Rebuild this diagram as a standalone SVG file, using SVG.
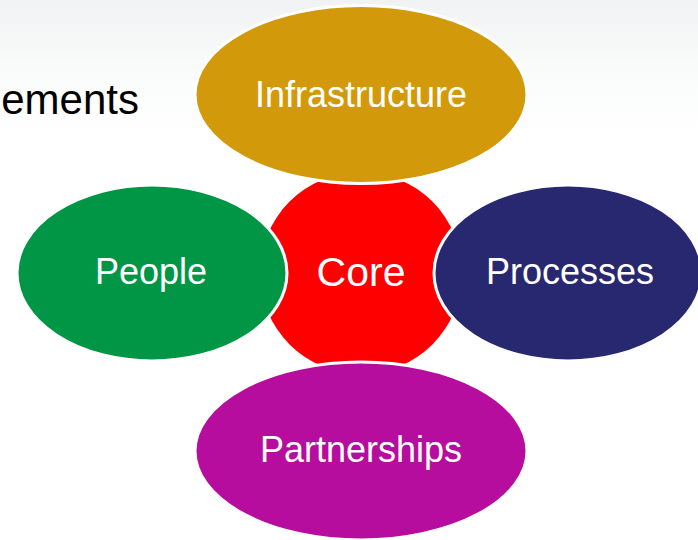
<svg xmlns="http://www.w3.org/2000/svg" width="698" height="540" viewBox="0 0 698 540">
  <defs>
    <linearGradient id="bg" x1="0" y1="0" x2="0" y2="1">
      <stop offset="0" stop-color="#f1f2f3"/>
      <stop offset="0.12" stop-color="#f9fafa"/>
      <stop offset="0.25" stop-color="#ffffff"/>
      <stop offset="1" stop-color="#ffffff"/>
    </linearGradient>
  </defs>
  <style>
    .lbl { font-family: "Liberation Sans", Arial, sans-serif; font-size: 36px; fill: #ffffff; text-anchor: middle; }
    .node { stroke: #ffffff; stroke-width: 3; }
  </style>
  <rect x="0" y="0" width="698" height="540" fill="url(#bg)"/>
  <text x="139" y="114" font-family="Liberation Sans, Arial, sans-serif" font-size="42" fill="#000000" text-anchor="end">ements</text>
  <g id="core">
    <circle cx="361" cy="273" r="101" fill="#ff0000"/>
  </g>
  <g id="infrastructure">
    <ellipse class="node" cx="361" cy="94.5" rx="166" ry="89" fill="#d29a0b"/>
    <text class="lbl" x="361" y="107">Infrastructure</text>
  </g>
  <g id="people">
    <ellipse class="node" cx="152" cy="273" rx="135" ry="88" fill="#009646"/>
    <text class="lbl" x="151" y="284">People</text>
  </g>
  <g id="processes">
    <ellipse class="node" cx="568" cy="273" rx="134" ry="88" fill="#282870"/>
    <text class="lbl" x="570" y="284">Processes</text>
  </g>
  <g id="partnerships">
    <ellipse class="node" cx="361" cy="451" rx="166" ry="89" fill="#b70d9e"/>
    <text class="lbl" x="361" y="462">Partnerships</text>
  </g>
  <g id="core-label">
    <text class="lbl" x="361" y="286" font-size="41" style="font-size:41px">Core</text>
  </g>
  <g id="connectors"/>
</svg>
